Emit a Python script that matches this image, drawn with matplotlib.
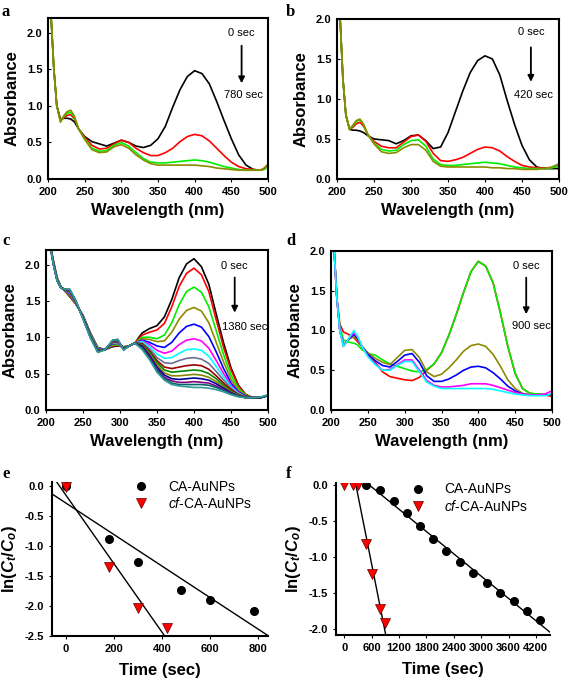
import numpy as np
import matplotlib
matplotlib.use('Agg')
import matplotlib.pyplot as plt

plt.rcParams['font.family'] = 'Liberation Sans'
plt.rcParams['mathtext.fontset'] = 'custom'
plt.rcParams['mathtext.rm'] = 'Liberation Sans'
plt.rcParams['mathtext.it'] = 'Liberation Sans:italic'
plt.rcParams['mathtext.bf'] = 'Liberation Sans:bold'
plt.rcParams['mathtext.bfit'] = 'Liberation Sans:bold:italic'
plt.rcParams['lines.solid_joinstyle'] = 'round'

# wavelength grids (nm)
wl_ab = [204, 208, 212, 217, 222, 226, 231, 236, 242, 250, 260, 270, 280, 290, 300, 310, 320, 330,
         340, 350, 360, 370, 380, 390, 400, 410, 420, 430, 440, 450, 460, 470, 480, 490, 495, 500]
wl_c = [205, 210, 215, 220, 226, 232, 240, 250, 260, 270, 280, 290, 297, 305, 312, 320, 330,
        340, 350, 360, 370, 380, 390, 400, 410, 420, 430, 440, 450, 460, 470, 480, 490, 500]

# panel a : CA-AuNPs, 0 -> 780 sec
a_black = [2.25, 1.50, 1.00, 0.82, 0.83, 0.83, 0.82, 0.78, 0.68, 0.58, 0.51, 0.48, 0.45, 0.49, 0.53, 0.50, 0.45, 0.43,
           0.46, 0.55, 0.72, 0.98, 1.22, 1.40, 1.48, 1.44, 1.30, 1.06, 0.80, 0.55, 0.33, 0.19, 0.13, 0.12, 0.14, 0.19]
a_red = [2.25, 1.50, 1.00, 0.80, 0.84, 0.87, 0.88, 0.82, 0.68, 0.57, 0.46, 0.41, 0.42, 0.48, 0.53, 0.50, 0.42, 0.36,
         0.32, 0.32, 0.36, 0.42, 0.51, 0.58, 0.61, 0.59, 0.52, 0.42, 0.32, 0.23, 0.17, 0.14, 0.13, 0.12, 0.15, 0.20]
a_green = [2.25, 1.50, 1.00, 0.78, 0.86, 0.90, 0.91, 0.84, 0.68, 0.55, 0.42, 0.38, 0.39, 0.46, 0.50, 0.45, 0.36, 0.28,
           0.23, 0.22, 0.22, 0.23, 0.24, 0.25, 0.26, 0.25, 0.23, 0.20, 0.17, 0.15, 0.13, 0.12, 0.12, 0.12, 0.13, 0.17]
a_olive = [2.25, 1.50, 1.00, 0.78, 0.87, 0.92, 0.94, 0.86, 0.68, 0.54, 0.40, 0.36, 0.37, 0.44, 0.47, 0.42, 0.33, 0.26,
           0.21, 0.19, 0.19, 0.19, 0.19, 0.19, 0.19, 0.18, 0.17, 0.15, 0.14, 0.13, 0.12, 0.12, 0.12, 0.12, 0.14, 0.20]

# panel b : cf-CA-AuNPs, 0 -> 420 sec
b_black = [2.05, 1.25, 0.80, 0.62, 0.61, 0.61, 0.60, 0.58, 0.54, 0.50, 0.49, 0.48, 0.44, 0.48, 0.54, 0.55, 0.48, 0.38,
           0.40, 0.58, 0.84, 1.10, 1.33, 1.48, 1.54, 1.50, 1.30, 0.98, 0.68, 0.42, 0.24, 0.15, 0.13, 0.13, 0.13, 0.13]
b_red = [2.05, 1.25, 0.80, 0.62, 0.65, 0.69, 0.71, 0.66, 0.55, 0.47, 0.41, 0.39, 0.39, 0.46, 0.53, 0.55, 0.47, 0.32,
         0.23, 0.22, 0.24, 0.27, 0.32, 0.37, 0.40, 0.39, 0.35, 0.28, 0.22, 0.17, 0.15, 0.14, 0.14, 0.14, 0.15, 0.17]
b_green = [2.05, 1.25, 0.80, 0.62, 0.67, 0.72, 0.74, 0.68, 0.55, 0.45, 0.37, 0.35, 0.36, 0.43, 0.48, 0.49, 0.41, 0.25,
           0.18, 0.17, 0.17, 0.18, 0.19, 0.20, 0.21, 0.20, 0.19, 0.17, 0.15, 0.14, 0.13, 0.13, 0.13, 0.14, 0.15, 0.16]
b_olive = [2.05, 1.25, 0.80, 0.62, 0.68, 0.73, 0.75, 0.68, 0.55, 0.44, 0.34, 0.32, 0.33, 0.39, 0.43, 0.43, 0.36, 0.22,
           0.16, 0.15, 0.15, 0.15, 0.15, 0.15, 0.15, 0.14, 0.14, 0.13, 0.13, 0.12, 0.12, 0.12, 0.13, 0.15, 0.17, 0.19]

# panel c : 0 -> 1380 sec, 15 scans
c_scans = [
    [2.30, 2.05, 1.82, 1.70, 1.63, 1.56, 1.46, 1.30, 1.06, 0.86, 0.83, 0.87, 0.88, 0.87, 0.88, 0.92, 1.06,
     1.12, 1.16, 1.28, 1.52, 1.82, 2.01, 2.08, 1.97, 1.73, 1.32, 0.92, 0.58, 0.34, 0.21, 0.17, 0.17, 0.20],
    [2.30, 2.05, 1.82, 1.70, 1.63, 1.57, 1.46, 1.30, 1.05, 0.85, 0.83, 0.88, 0.89, 0.86, 0.88, 0.92, 1.03,
     1.07, 1.10, 1.19, 1.42, 1.70, 1.88, 1.95, 1.86, 1.63, 1.24, 0.86, 0.55, 0.33, 0.21, 0.17, 0.17, 0.20],
    [2.30, 2.04, 1.81, 1.70, 1.63, 1.58, 1.47, 1.29, 1.05, 0.85, 0.83, 0.89, 0.90, 0.86, 0.88, 0.92, 1.00,
     1.00, 0.98, 1.03, 1.20, 1.45, 1.63, 1.69, 1.62, 1.42, 1.09, 0.76, 0.48, 0.30, 0.20, 0.17, 0.17, 0.20],
    [2.30, 2.04, 1.81, 1.69, 1.64, 1.59, 1.47, 1.29, 1.04, 0.84, 0.83, 0.90, 0.91, 0.85, 0.88, 0.92, 0.98,
     0.97, 0.94, 0.95, 1.07, 1.25, 1.37, 1.41, 1.36, 1.20, 0.93, 0.66, 0.42, 0.27, 0.19, 0.17, 0.17, 0.20],
    [2.30, 2.03, 1.80, 1.69, 1.64, 1.60, 1.48, 1.29, 1.04, 0.84, 0.83, 0.91, 0.92, 0.85, 0.88, 0.92, 0.96,
     0.93, 0.88, 0.86, 0.93, 1.06, 1.15, 1.18, 1.14, 1.01, 0.80, 0.57, 0.37, 0.25, 0.19, 0.17, 0.17, 0.20],
    [2.30, 2.03, 1.80, 1.69, 1.64, 1.61, 1.48, 1.28, 1.03, 0.83, 0.83, 0.92, 0.92, 0.85, 0.88, 0.92, 0.95,
     0.90, 0.82, 0.78, 0.81, 0.90, 0.96, 0.98, 0.95, 0.85, 0.68, 0.50, 0.34, 0.24, 0.18, 0.17, 0.17, 0.20],
    [2.30, 2.02, 1.80, 1.69, 1.65, 1.62, 1.48, 1.28, 1.03, 0.83, 0.83, 0.92, 0.93, 0.84, 0.88, 0.92, 0.94,
     0.87, 0.77, 0.71, 0.72, 0.78, 0.83, 0.84, 0.82, 0.74, 0.60, 0.45, 0.32, 0.23, 0.18, 0.17, 0.17, 0.20],
    [2.30, 2.02, 1.79, 1.68, 1.65, 1.63, 1.49, 1.28, 1.02, 0.82, 0.83, 0.93, 0.94, 0.84, 0.88, 0.92, 0.92,
     0.84, 0.72, 0.65, 0.64, 0.68, 0.71, 0.72, 0.70, 0.64, 0.53, 0.41, 0.30, 0.22, 0.18, 0.17, 0.17, 0.20],
    [2.30, 2.02, 1.79, 1.68, 1.65, 1.63, 1.49, 1.27, 1.02, 0.82, 0.83, 0.93, 0.94, 0.84, 0.88, 0.92, 0.91,
     0.81, 0.68, 0.59, 0.57, 0.59, 0.61, 0.62, 0.61, 0.56, 0.47, 0.37, 0.28, 0.21, 0.18, 0.17, 0.17, 0.20],
    [2.30, 2.01, 1.79, 1.68, 1.65, 1.64, 1.49, 1.27, 1.01, 0.81, 0.83, 0.94, 0.95, 0.84, 0.88, 0.92, 0.90,
     0.79, 0.65, 0.55, 0.52, 0.53, 0.54, 0.55, 0.54, 0.50, 0.43, 0.34, 0.26, 0.20, 0.17, 0.17, 0.17, 0.20],
    [2.30, 2.01, 1.78, 1.68, 1.66, 1.64, 1.50, 1.27, 1.01, 0.81, 0.83, 0.94, 0.95, 0.83, 0.88, 0.92, 0.89,
     0.77, 0.62, 0.51, 0.47, 0.47, 0.48, 0.49, 0.48, 0.45, 0.39, 0.32, 0.25, 0.20, 0.17, 0.17, 0.17, 0.20],
    [2.30, 2.01, 1.78, 1.68, 1.66, 1.65, 1.50, 1.26, 1.00, 0.80, 0.83, 0.95, 0.96, 0.83, 0.88, 0.92, 0.88,
     0.75, 0.59, 0.48, 0.43, 0.42, 0.43, 0.44, 0.43, 0.41, 0.36, 0.30, 0.24, 0.19, 0.17, 0.17, 0.17, 0.20],
    [2.30, 2.00, 1.78, 1.68, 1.66, 1.65, 1.50, 1.26, 1.00, 0.80, 0.83, 0.95, 0.96, 0.83, 0.88, 0.92, 0.86,
     0.73, 0.56, 0.45, 0.40, 0.38, 0.38, 0.39, 0.38, 0.37, 0.33, 0.28, 0.23, 0.19, 0.17, 0.17, 0.17, 0.20],
    [2.30, 2.00, 1.78, 1.68, 1.66, 1.66, 1.51, 1.26, 1.00, 0.80, 0.83, 0.96, 0.97, 0.83, 0.88, 0.92, 0.85,
     0.71, 0.54, 0.43, 0.37, 0.35, 0.35, 0.35, 0.35, 0.34, 0.31, 0.27, 0.22, 0.19, 0.17, 0.17, 0.17, 0.20],
    [2.30, 2.00, 1.78, 1.68, 1.66, 1.66, 1.51, 1.25, 0.99, 0.79, 0.83, 0.96, 0.97, 0.82, 0.88, 0.92, 0.83,
     0.69, 0.52, 0.41, 0.35, 0.33, 0.32, 0.31, 0.31, 0.30, 0.28, 0.25, 0.21, 0.18, 0.17, 0.17, 0.18, 0.21],
]
c_colors = ['#000000', '#ff0000', '#00ee00', '#8b8b00', '#0000ff', '#ff00ff', '#00ffff', '#6e6e96',
            '#990000', '#008800', '#888800', '#000099', '#880088', '#006666', '#339999']

# panel d : 0 -> 900 sec
d_red = [2.05, 1.40, 1.08, 0.98, 0.96, 0.94, 0.91, 0.86, 0.80, 0.70, 0.60, 0.48, 0.42, 0.40, 0.38, 0.37, 0.41, 0.50,
         0.58, 0.72, 0.94, 1.20, 1.48, 1.74, 1.87, 1.81, 1.60, 1.22, 0.80, 0.46, 0.27, 0.21, 0.20, 0.19, 0.18, 0.17]
d_green = [2.05, 1.40, 1.05, 0.88, 0.86, 0.85, 0.84, 0.82, 0.76, 0.71, 0.69, 0.63, 0.58, 0.55, 0.52, 0.49, 0.48, 0.51,
           0.58, 0.72, 0.94, 1.20, 1.48, 1.74, 1.87, 1.81, 1.60, 1.22, 0.80, 0.46, 0.27, 0.21, 0.20, 0.20, 0.19, 0.19]
d_olive = [2.05, 1.40, 1.00, 0.82, 0.87, 0.90, 0.92, 0.88, 0.80, 0.72, 0.65, 0.60, 0.57, 0.66, 0.75, 0.76, 0.66, 0.48,
           0.42, 0.45, 0.53, 0.63, 0.74, 0.81, 0.83, 0.80, 0.70, 0.55, 0.38, 0.27, 0.21, 0.19, 0.19, 0.19, 0.19, 0.18]
d_blue = [2.05, 1.40, 1.00, 0.81, 0.87, 0.91, 0.95, 0.90, 0.80, 0.70, 0.62, 0.56, 0.54, 0.61, 0.69, 0.71, 0.60, 0.43,
          0.36, 0.36, 0.39, 0.44, 0.50, 0.54, 0.55, 0.53, 0.47, 0.39, 0.30, 0.24, 0.20, 0.19, 0.19, 0.19, 0.19, 0.20]
d_magenta = [2.05, 1.40, 1.00, 0.80, 0.87, 0.92, 0.97, 0.92, 0.80, 0.68, 0.58, 0.50, 0.51, 0.57, 0.63, 0.63, 0.50, 0.37,
             0.31, 0.29, 0.29, 0.30, 0.31, 0.33, 0.33, 0.33, 0.31, 0.28, 0.25, 0.22, 0.20, 0.19, 0.19, 0.20, 0.22, 0.24]
d_cyan = [2.05, 1.40, 1.00, 0.80, 0.87, 0.93, 1.00, 0.93, 0.80, 0.67, 0.57, 0.50, 0.50, 0.56, 0.61, 0.61, 0.48, 0.35,
          0.30, 0.27, 0.27, 0.27, 0.27, 0.27, 0.27, 0.27, 0.26, 0.24, 0.22, 0.20, 0.19, 0.18, 0.18, 0.18, 0.19, 0.21]

# panel e : kinetics, short run
e_t_ca = [0, 180, 300, 480, 600, 780]
e_ln_ca = [0.0, -0.88, -1.27, -1.74, -1.90, -2.09]
e_t_cf = [0, 180, 300, 420]
e_ln_cf = [-0.02, -1.35, -2.03, -2.37]

# panel f : kinetics, long run
f_t_ca = [480, 780, 1080, 1370, 1660, 1950, 2240, 2530, 2830, 3120, 3410, 3710, 4000, 4290]
f_ln_ca = [0.0, -0.07, -0.22, -0.38, -0.57, -0.75, -0.91, -1.06, -1.22, -1.36, -1.50, -1.61, -1.75, -1.87]
f_t_cf = [0, 180, 300, 480, 600, 780, 900]
f_ln_cf = [0.0, 0.0, 0.0, -0.82, -1.23, -1.72, -1.92]

W, H = 568, 682
fig = plt.figure(figsize=(W / 100, H / 100), dpi=100)


def add_ax(left, top, right, bottom):
    return fig.add_axes([left / W, 1 - bottom / H, (right - left) / W, (bottom - top) / H])


tick_font = dict(fontsize=8, fontweight='bold')
lab_font = dict(fontsize=12, fontweight='bold')
LW = 1.2


def spectra_axes(ax, ymax, ticks):
    ax.set_xlim(200, 500)
    ax.set_ylim(0, ymax)
    ax.set_xticks([200, 250, 300, 350, 400, 450, 500])
    ax.set_yticks(ticks)
    ax.set_xticklabels([str(v) for v in [200, 250, 300, 350, 400, 450, 500]], **tick_font)
    ax.set_yticklabels(['%.1f' % v for v in ticks], **tick_font)
    ax.tick_params(axis='x', direction='out', length=2, width=0.8, pad=4)
    ax.tick_params(axis='y', direction='in', length=2, width=0.8, pad=4)
    for s in ax.spines.values():
        s.set_linewidth(1.5)
    ax.set_xlabel('Wavelength (nm)', labelpad=4, **lab_font)
    ax.set_ylabel('Absorbance', labelpad=5, **lab_font)


def time_marker(ax, x, y0, y1, y2, xe, y3, t_end):
    ax.text(x, y0, '0 sec', ha='center', va='center', fontsize=8)
    ax.annotate('', xy=(x, y2), xytext=(x, y1),
                arrowprops=dict(arrowstyle='-|>', color='black', lw=1.3, mutation_scale=9))
    ax.text(xe, y3, t_end, ha='center', va='center', fontsize=8)


# a
ax_a = add_ax(48, 18, 268, 179)
for ys, col in [(a_black, 'black'), (a_red, 'red'), (a_green, '#00ee00'), (a_olive, '#8b8b00')]:
    ax_a.plot(wl_ab, ys, color=col, lw=LW)
spectra_axes(ax_a, 2.2, [0.0, 0.5, 1.0, 1.5, 2.0])
time_marker(ax_a, 464, 2.0, 1.86, 1.27, 466, 1.15, '780 sec')

# b
ax_b = add_ax(337, 19, 559, 179)
for ys, col in [(b_black, 'black'), (b_red, 'red'), (b_green, '#00ee00'), (b_olive, '#8b8b00')]:
    ax_b.plot(wl_ab, ys, color=col, lw=LW)
spectra_axes(ax_b, 2.0, [0.0, 0.5, 1.0, 1.5, 2.0])
time_marker(ax_b, 462, 1.84, 1.68, 1.18, 466, 1.05, '420 sec')

# c
ax_c = add_ax(46, 250, 268, 410)
for ys, col in zip(c_scans, c_colors):
    ax_c.plot(wl_c, ys, color=col, lw=LW)
spectra_axes(ax_c, 2.2, [0.0, 0.5, 1.0, 1.5, 2.0])
time_marker(ax_c, 455, 1.98, 1.86, 1.30, 468, 1.14, '1380 sec')

# d
ax_d = add_ax(331, 251, 552, 410)
for ys, col in [(d_red, 'red'), (d_green, '#00ee00'), (d_olive, '#8b8b00'), (d_blue, '#0000ff'),
                (d_magenta, '#ff00ff'), (d_cyan, '#00ffff')]:
    ax_d.plot(wl_ab, ys, color=col, lw=LW)
spectra_axes(ax_d, 2.0, [0.0, 0.5, 1.0, 1.5, 2.0])
time_marker(ax_d, 465, 1.81, 1.70, 1.17, 472, 1.06, '900 sec')


def kinetics_axes(ax, xt, yt):
    ax.spines['top'].set_visible(False)
    ax.spines['right'].set_visible(False)
    ax.spines['left'].set_linewidth(1.5)
    ax.spines['bottom'].set_linewidth(1.5)
    ax.set_xticks(xt)
    ax.set_xticklabels([str(v) for v in xt], **tick_font)
    ax.set_yticks(yt)
    ax.set_yticklabels(['%.1f' % v for v in yt], **tick_font)
    ax.tick_params(direction='out', length=2, width=0.8, pad=4)
    ax.set_xlabel('Time (sec)', labelpad=6, **lab_font)
    ax.set_ylabel(r'ln($\mathbfit{C}_{\mathbfit{t}}$/$\mathbfit{C}_{\mathbfit{o}}$)', labelpad=4, **lab_font)


mk_ca = dict(marker='o', color='black', ms=5.5, ls='none', label='CA-AuNPs')
mk_cf = dict(marker='v', color='red', mec='#600000', mew=0.5, ms=6.5, ls='none', label=r'$\it{cf}$-CA-AuNPs')

# e
ax_e = add_ax(52, 482, 268, 636)
ax_e.set_xlim(-58, 840)
ax_e.set_ylim(-2.5, 0.06)
xx = np.array([-58, 840])
p = np.polyfit(e_t_ca, e_ln_ca, 1)
ax_e.plot(xx, np.polyval(p, xx), color='black', lw=1.0)
p = np.polyfit(e_t_cf, e_ln_cf, 1)
ax_e.plot(xx, np.polyval(p, xx), color='black', lw=1.0)
ax_e.plot(e_t_ca, e_ln_ca, **mk_ca)
ax_e.plot(e_t_cf, e_ln_cf, **mk_cf)
kinetics_axes(ax_e, [0, 200, 400, 600, 800], [0.0, -0.5, -1.0, -1.5, -2.0, -2.5])
ax_e.legend(loc='upper left', bbox_to_anchor=(0.32, 1.05), frameon=False, fontsize=10,
            handletextpad=1.0, labelspacing=0.15, borderaxespad=0)

# f
ax_f = add_ax(336, 483, 550, 635)
ax_f.set_xlim(-183, 4510)
ax_f.set_ylim(-2.08, 0.03)
p = np.polyfit(f_t_ca, f_ln_ca, 1)
x0 = -p[1] / p[0]
xx = np.array([x0, 4510])
ax_f.plot(xx, np.polyval(p, xx), color='black', lw=1.0)
p = np.polyfit(f_t_cf[2:], f_ln_cf[2:], 1)
x0 = -p[1] / p[0]
xx = np.array([x0, 1000])
ax_f.plot(xx, np.polyval(p, xx), color='black', lw=1.0)
ax_f.plot(f_t_ca, f_ln_ca, **mk_ca)
ax_f.plot(f_t_cf, f_ln_cf, **mk_cf)
kinetics_axes(ax_f, [0, 600, 1200, 1800, 2400, 3000, 3600, 4200], [0.0, -0.5, -1.0, -1.5, -2.0])
ax_f.legend(loc='upper left', bbox_to_anchor=(0.29, 1.04), frameon=False, fontsize=10,
            handletextpad=0.9, labelspacing=0.15, borderaxespad=0)

# panel letters
for letter, x, y in [('a', 2, 12), ('b', 286, 12), ('c', 2, 241), ('d', 286, 241), ('e', 2, 474), ('f', 286, 474)]:
    fig.text(x / W, 1 - y / H, letter, fontsize=12, fontweight='bold', family='Liberation Serif',
             ha='left', va='center')

fig.savefig('out.png', dpi=100)
